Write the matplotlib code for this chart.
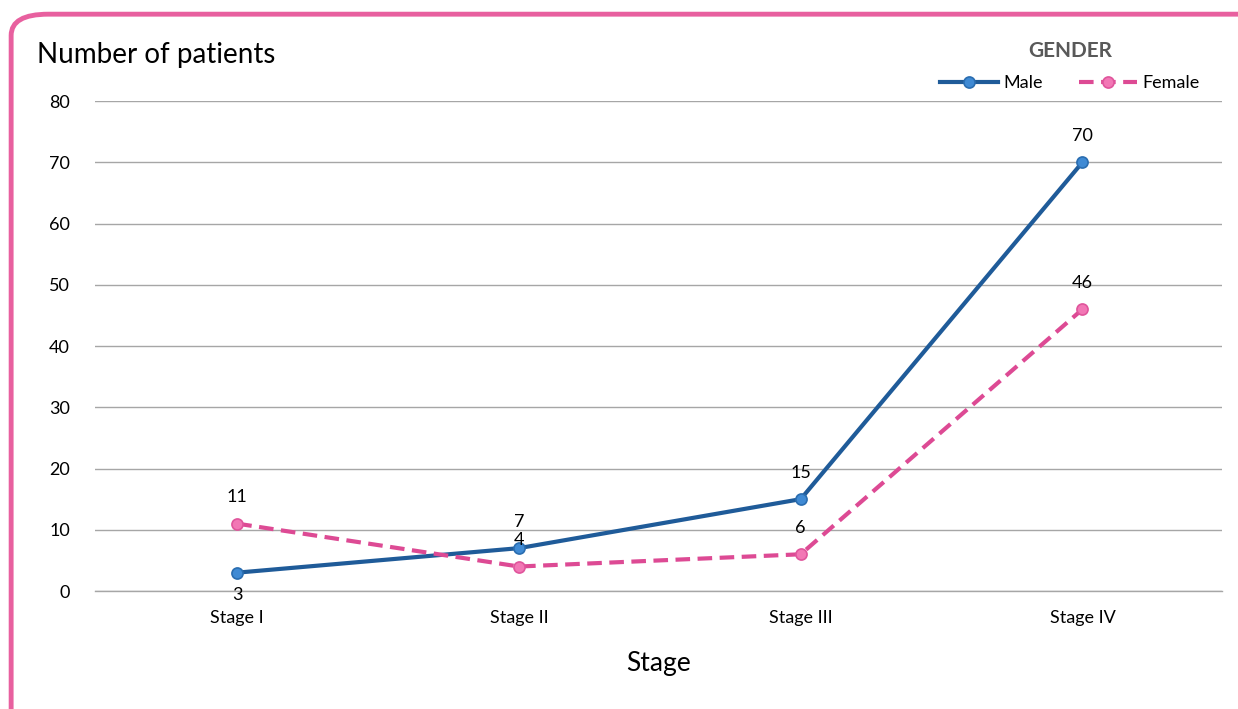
import numpy as np
import matplotlib.pyplot as plt
from matplotlib.patches import FancyBboxPatch

# data
stages = ["Stage I", "Stage II", "Stage III", "Stage IV"]
male = [3, 7, 15, 70]
female = [11, 4, 6, 46]

plt.rcParams['font.family'] = ['Lato', 'DejaVu Sans']

fig = plt.figure(figsize=(12.38, 7.09), dpi=100)
ax = fig.add_axes([0.0767, 0.1664, 0.9103, 0.6911])

x = np.arange(len(stages))
ax.plot(x, male, color="#1f5b99", lw=3, marker="o", ms=8,
        mfc="#3f8ad4", mec="#2a6db0", mew=1.2, label="Male", zorder=3)
ax.plot(x, female, color="#dd4a94", lw=3, ls=(0, (3.5, 1.8)), marker="o", ms=8,
        mfc="#f277b5", mec="#e0559c", mew=1.2, label="Female", zorder=3)

# value labels
for i, v in enumerate(male):
    if i == 0:
        ax.annotate(str(v), (i, v), xytext=(0, -16), textcoords="offset points",
                    ha="center", va="center", fontsize=13)
    else:
        ax.annotate(str(v), (i, v), xytext=(0, 19), textcoords="offset points",
                    ha="center", va="center", fontsize=13)
for i, v in enumerate(female):
    ax.annotate(str(v), (i, v), xytext=(0, 19), textcoords="offset points",
                ha="center", va="center", fontsize=13)

ax.set_xlim(-0.505, 3.495)
ax.set_ylim(0, 80)
ax.set_yticks(range(0, 81, 10))
ax.set_xticks(x)
ax.set_xticklabels(stages, fontsize=12)
ax.tick_params(axis="both", length=0, labelsize=13)
ax.tick_params(axis="x", pad=14)
ax.tick_params(axis="y", pad=18)
ax.grid(axis="y", color="#a6a6a6", lw=1)
ax.axhline(0, color="#a6a6a6", lw=1, clip_on=False, zorder=1)
ax.set_axisbelow(True)
for s in ax.spines.values():
    s.set_visible(False)

ax.set_xlabel("Stage", fontsize=19, labelpad=18)
fig.text(0.03, 0.922, "Number of patients", fontsize=20, ha="left", va="center")

leg = fig.legend(loc="upper right", bbox_to_anchor=(0.982, 0.965), ncol=2,
                 title="GENDER", frameon=False, fontsize=13, handlelength=3.2,
                 columnspacing=2.0, handletextpad=0.3)
leg.get_title().set_fontweight("bold")
leg.get_title().set_fontsize(15)
leg.get_title().set_color("#595959")
leg._legend_box.sep = 10

# rounded pink frame
frame = FancyBboxPatch((0.009, -0.05), 1.2, 1.03, transform=fig.transFigure,
                       boxstyle="round,pad=0,rounding_size=0.03",
                       fill=False, ec="#e8609f", lw=3.5, zorder=0)
fig.patches.append(frame)

fig.savefig("out.png", dpi=100)
